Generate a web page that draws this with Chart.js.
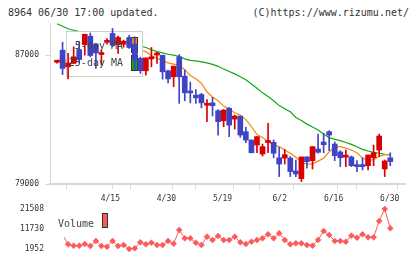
<!DOCTYPE html>
<html><head><meta charset="utf-8">
<script src="https://cdn.jsdelivr.net/npm/chart.js@4/dist/chart.umd.min.js"></script>
<style>
html,body{margin:0;padding:0;background:#fff;width:420px;height:259px;overflow:hidden;}
#wrap{position:relative;width:420px;height:259px;}
canvas{position:absolute;left:0;}
#main{top:0;}
#vol{top:195px;}
.t{position:absolute;top:7px;font:10px "DejaVu Sans Mono",monospace;line-height:12px;color:#333;white-space:pre;}
</style></head><body>
<div id="wrap">
<div class="t" style="left:8px">8964 06/30 17:00 updated.</div>
<div class="t" style="right:11px">(C)https://www.rizumu.net/</div>
<canvas id="main" width="420" height="205"></canvas>
<canvas id="vol" width="420" height="64"></canvas>
</div>
<script>
// ---- data ----
const opens  = [86560,87310,86280,86490,87350,87660,88180,87680,87040,87800,88350,87660,87680,88100,87680,86800,86030,86770,87010,87000,86030,85660,86900,85700,84770,84520,84560,83890,84040,83550,82930,83700,83030,83220,82250,81730,81420,80860,81580,81590,80630,80610,80610,79810,79330,80680,80450,81170,81610,82250,81480,80990,80670,80680,80180,80180,80140,80630,81110,79930,80630];
const closes = [86580,86180,86520,86900,86730,88300,86980,87140,87060,87810,87620,88100,87870,87480,86690,86040,86830,86900,87030,85970,85530,86320,85660,84660,84660,84350,84040,83910,83860,82870,83590,82660,83220,82040,81730,80940,81940,81320,81600,80910,80240,80820,79770,79620,80680,80390,81320,80970,81440,82040,80760,80630,80690,80140,80080,80080,80800,80940,81980,80430,80390];
const highs  = [86630,87810,87110,87520,87830,88300,88380,87680,87310,88040,88660,88180,87930,88240,88140,86880,86830,87480,87190,87000,86070,86320,87040,86070,85330,84870,84630,84250,84380,83630,83630,83760,83280,83220,82520,81730,81940,81480,82770,81730,81280,81150,80700,80490,80680,80700,81320,82100,82150,82310,81610,81070,81110,80740,80450,80630,80800,81420,82100,80490,80940];
const lows   = [86500,85800,85530,86490,86520,87000,86900,86180,86380,87680,87520,87110,87500,87420,86070,85870,85760,86280,86490,85510,85280,85040,84010,84170,84040,84010,83730,82870,83220,82040,82560,81940,82410,81900,81560,80940,80940,80740,80940,80630,79460,80240,79460,79460,79150,79980,79930,80910,80940,81070,80450,80080,80080,80080,79770,79870,79870,80140,80700,79460,80140];
const ma5    = [86690,86690,86630,86690,86630,86940,87090,87210,87250,87430,87310,87540,87680,87780,87560,87310,87220,86970,86810,86680,86520,86450,86380,86100,85740,85540,85260,84710,84400,84170,83840,83650,83420,83270,83000,82570,82070,81890,81640,81420,81320,81110,80910,80660,80350,80240,80250,80420,80600,80990,81320,81320,81230,81110,80940,80610,80460,80510,80710,80820,80830];
const ma25   = [88950,88800,88640,88550,88460,88380,88300,88230,88150,88080,88000,87930,87860,87780,87710,87590,87480,87340,87220,87140,87060,87000,86920,86770,86680,86650,86590,86520,86430,86310,86140,85990,85840,85660,85480,85210,84950,84660,84430,84170,83870,83680,83490,83130,82950,82720,82540,82350,82100,81880,81770,81690,81580,81460,81310,81150,81050,80960,80910,80840,80800];
const volumes = [null,8800,4250,3570,3570,4400,3420,5860,3420,3080,5860,3420,3910,1952,2290,5230,4250,5030,3910,3910,5860,4540,11240,7180,7180,5030,3910,7970,6350,8310,6350,6350,7970,5230,4400,5520,6350,7180,9130,7180,9620,6350,4250,4740,4740,3910,3570,6350,10750,8800,5860,5860,5520,8460,7480,9130,7670,7670,15640,21508,12070];
const priceTicks = [79000, 87000];
const volTicks = [1952, 11730, 21508];
const dateTickLabels = ['4/15','4/30','5/19','6/2','6/16','6/30'];
const dateTickPos = [9.6, 19.7, 29.8, 40.1, 49.8, 59.9];
const legendLabels = ['5-day MA','25-day MA'];
const volumeLabel = 'Volume';

// ---- styles ----
const RED='#d80000', BLUE='#4044c4', ORANGE='#f08a10', GREEN='#12a812', VOLC='#fa5a5a', GRID='#d8d8d8';
const FONT='DejaVu Sans Mono';
Chart.defaults.font.family = FONT;
const xMin = -1.26, xMax = 62.65;
const idx = closes.map((_, i) => i);
const candleColor = idx.map(i => closes[i] >= opens[i] ? RED : BLUE);

const maLegend = {
  id:'maLegend',
  afterDatasetDraw(chart, args){
    if (args.index !== 2) return;
    const c = chart.ctx; c.save();
    c.fillStyle='#fff'; c.fillRect(66,31,77,46);
    c.strokeStyle='#cfcfcf'; c.lineWidth=1; c.strokeRect(66.5,31.5,76,45);
    c.fillStyle=ORANGE; c.fillRect(131,37,6,15);
    c.fillStyle=GREEN; c.fillRect(131,55,6,15);
    c.strokeStyle='#333'; c.strokeRect(131.5,37.5,6,15); c.strokeRect(131.5,55.5,6,15);
    c.restore();
  },
  afterDatasetsDraw(chart){
    const c = chart.ctx; c.save();
    c.font = '10px "'+FONT+'"'; c.fillStyle='#444'; c.textAlign='right'; c.textBaseline='alphabetic';
    c.fillText(legendLabels[0],123,48.5);
    c.fillText(legendLabels[1],123,65.5);
    c.restore();
  }
};

new Chart(document.getElementById('main'), {
  type:'bar',
  data:{ datasets:[
    { type:'bar', data: idx.map(i=>({x:i, y:[opens[i], closes[i]]})), backgroundColor:candleColor, barThickness:5, minBarLength:2, grouped:false, order:0, borderWidth:0 },
    { type:'bar', data: idx.map(i=>({x:i, y:[lows[i], highs[i]]})), backgroundColor:candleColor, barThickness:1, grouped:false, order:1, borderWidth:0 },
    { type:'line', data: idx.map(i=>({x:i, y:ma5[i]})), borderColor:ORANGE, borderWidth:1.2, pointRadius:0, tension:0, order:2 },
    { type:'line', data: idx.map(i=>({x:i, y:ma25[i]})), borderColor:GREEN, borderWidth:1.2, pointRadius:0, tension:0, order:3 }
  ]},
  options:{
    responsive:false, animation:false, events:[],
    layout:{ padding:{left:0,right:15,top:23,bottom:0}, autoPadding:false },
    plugins:{ legend:{display:false}, tooltip:{enabled:false}, title:{display:false} },
    scales:{
      x:{ type:'linear', min:xMin, max:xMax, offset:false,
        afterBuildTicks(s){
          const t=[];
          for(let k=0;k<=11;k++) t.push({value:xMin+k*(xMax-xMin)/11});
          dateTickPos.forEach((p,j)=>t.push({value:p, lbl:dateTickLabels[j]}));
          t.sort((a,b)=>a.value-b.value);
          s.ticks=t;
        },
        afterFit(s){ s.height=21; s.paddingLeft=0; s.paddingRight=0; },
        grid:{ drawOnChartArea:false, drawTicks:true, tickLength:5, color:GRID, tickColor:(ctx)=> (ctx.tick && ctx.tick.lbl) ? 'rgba(0,0,0,0)' : GRID },
        border:{ display:true, color:GRID, width:2 },
        ticks:{ autoSkip:false, maxRotation:0, minRotation:0, padding:5, color:'#333', font:{size:8, family:FONT},
          callback:(v,i,ticks)=> ticks[i] && ticks[i].lbl ? ticks[i].lbl : '' }
      },
      y:{ type:'linear', min:79000, max:89000,
        afterBuildTicks(s){ s.ticks = priceTicks.map(v=>({value:v})); },
        afterFit(s){ s.width=50; s.paddingTop=0; s.paddingBottom=0; },
        grid:{ drawOnChartArea:false, drawTicks:true, tickLength:5, color:GRID },
        border:{ display:true, color:GRID, width:1 },
        ticks:{ padding:6, color:'#333', font:{size:8, family:FONT}, callback:v=>String(v) }
      }
    }
  },
  plugins:[maLegend]
});

const volLegend = {
  id:'volLegend',
  afterDraw(chart){
    const c = chart.ctx; c.save();
    c.font='10px "'+FONT+'"'; c.fillStyle='#444'; c.textAlign='left'; c.textBaseline='alphabetic';
    c.fillText(volumeLabel,58,31.5);
    c.fillStyle=VOLC; c.fillRect(102,18,6,15);
    c.strokeStyle='#333'; c.lineWidth=1; c.strokeRect(102.5,18.5,5,14);
    c.restore();
  }
};

const volXMin = xMin + (64-50)/355*(xMax-xMin);
new Chart(document.getElementById('vol'), {
  type:'line',
  data:{ datasets:[{ data: idx.map(i=>({x:i, y:volumes[i]})), borderColor:VOLC, borderWidth:1, pointStyle:'rectRot',
    pointRadius: idx.map(i=> i<2 ? 0 : 3), pointBackgroundColor:VOLC, pointBorderColor:VOLC, pointBorderWidth:0.5, tension:0,
    clip:{left:0, top:false, right:false, bottom:false} }]},
  options:{
    responsive:false, animation:false, events:[],
    layout:{ padding:{left:0,right:15,top:14,bottom:10}, autoPadding:false },
    plugins:{ legend:{display:false}, tooltip:{enabled:false} },
    scales:{
      x:{ type:'linear', display:false, min:volXMin, max:xMax },
      y:{ type:'linear', min:volTicks[0], max:volTicks[2],
        afterBuildTicks(s){ s.ticks = volTicks.map(v=>({value:v})); },
        afterFit(s){ s.width=64; s.paddingTop=0; s.paddingBottom=0; },
        grid:{ display:false, drawTicks:false },
        border:{ display:false },
        ticks:{ padding:20, color:'#333', font:{size:8, family:FONT}, callback:v=>String(v) }
      }
    }
  },
  plugins:[volLegend]
});
</script>
</body></html>
